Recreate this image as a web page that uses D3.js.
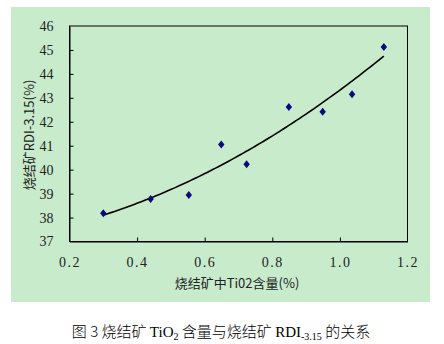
<!DOCTYPE html>
<html>
<head>
<meta charset="utf-8">
<script src="https://cdn.jsdelivr.net/npm/d3@7"></script>
<style>
  html, body { margin: 0; padding: 0; background: #ffffff; }
  svg { display: block; }
</style>
</head>
<body>
<svg id="chart" width="444" height="344"></svg>
<script>
// TiO2 content in sinter (%) and the matching RDI-3.15 (%)
const tio2 = [0.30, 0.44, 0.553, 0.649, 0.724, 0.849, 0.949, 1.036, 1.13];
const rdi  = [38.18, 38.78, 38.94, 41.05, 40.23, 42.62, 42.42, 43.15, 45.12];
const xTicks = [0.2, 0.4, 0.6, 0.8, 1.0, 1.2];
const yTicks = [37, 38, 39, 40, 41, 42, 43, 44, 45, 46];

const svg = d3.select("#chart");
const plot = { left: 69.5, top: 26, right: 407.5, bottom: 241.5 };

// green chart area
svg.append("rect")
  .attr("x", 11).attr("y", 7).attr("width", 419).attr("height", 295)
  .attr("fill", "#c8ebcb");

const x = d3.scaleLinear().domain([0.2, 1.2]).range([plot.left, plot.right]);
const y = d3.scaleLinear().domain([37, 46]).range([plot.bottom, plot.top]);

// plot frame
svg.append("rect")
  .attr("x", plot.left).attr("y", plot.top)
  .attr("width", plot.right - plot.left).attr("height", plot.bottom - plot.top)
  .attr("fill", "none").attr("stroke", "#000").attr("stroke-width", 1);

// axes with inward ticks
const yAxis = svg.append("g")
  .attr("transform", `translate(${plot.left},0)`)
  .call(d3.axisLeft(y).tickValues(yTicks).tickFormat(d3.format("d"))
        .tickSizeInner(-4).tickSizeOuter(0).tickPadding(16));
const xAxis = svg.append("g")
  .attr("transform", `translate(0,${plot.bottom})`)
  .call(d3.axisBottom(x).tickValues(xTicks).tickFormat(d3.format(".1f"))
        .tickSizeInner(-4).tickSizeOuter(0).tickPadding(16));

[xAxis, yAxis].forEach(g => {
  g.select(".domain").attr("stroke", "#000");
  g.selectAll(".tick line").attr("stroke", "#000");
  g.selectAll(".tick text")
    .attr("fill", "#222")
    .style("font-family", "'Liberation Serif', serif")
    .style("font-size", "14px");
});
xAxis.selectAll(".tick text").style("letter-spacing", "1.5px");
// drop end ticks that sit on the frame corners
yAxis.selectAll(".tick line").filter(d => d === 37 || d === 46).remove();
xAxis.selectAll(".tick line").filter(d => d === 0.2 || d === 1.2).remove();

// second-order polynomial trendline (least squares)
function polyFit2(xs, ys) {
  const n = xs.length;
  let s = [0, 0, 0, 0, 0], t = [0, 0, 0];
  for (let i = 0; i < n; i++) {
    let p = 1;
    for (let k = 0; k <= 4; k++) { s[k] += p; if (k <= 2) t[k] += p * ys[i]; p *= xs[i]; }
  }
  const A = [[s[0], s[1], s[2], t[0]], [s[1], s[2], s[3], t[1]], [s[2], s[3], s[4], t[2]]];
  for (let c = 0; c < 3; c++) {
    for (let r = c + 1; r < 3; r++) {
      const f = A[r][c] / A[c][c];
      for (let k = c; k < 4; k++) A[r][k] -= f * A[c][k];
    }
  }
  const b = [0, 0, 0];
  for (let r = 2; r >= 0; r--) {
    let v = A[r][3];
    for (let k = r + 1; k < 3; k++) v -= A[r][k] * b[k];
    b[r] = v / A[r][r];
  }
  return b;
}
const coef = polyFit2(tio2, rdi);
const xmin = d3.min(tio2), xmax = d3.max(tio2);
const trend = d3.range(0, 101).map(i => {
  const xv = xmin + (xmax - xmin) * i / 100;
  return [xv, coef[0] + coef[1] * xv + coef[2] * xv * xv];
});
svg.append("path")
  .datum(trend)
  .attr("fill", "none").attr("stroke", "#000").attr("stroke-width", 1.6)
  .attr("d", d3.line().x(d => x(d[0])).y(d => y(d[1])));

// data markers
svg.append("g").selectAll("path")
  .data(tio2.map((v, i) => [v, rdi[i]]))
  .join("path")
  .attr("transform", d => `translate(${x(d[0])},${y(d[1])})`)
  .attr("d", "M0,-4L3.2,0L0,4L-3.2,0Z")
  .attr("fill", "#0a0a80");

// axis titles
svg.append("text")
  .attr("x", 237).attr("y", 288)
  .attr("text-anchor", "middle")
  .attr("fill", "#222")
  .style("font-family", "'Noto Sans CJK SC', sans-serif")
  .style("font-size", "13px")
  .text("烧结矿中Ti02含量(%)");

svg.append("text")
  .attr("transform", "translate(34,135) rotate(-90)")
  .attr("text-anchor", "middle")
  .attr("fill", "#222")
  .style("font-family", "'Noto Sans CJK SC', sans-serif")
  .style("font-size", "13px")
  .text("烧结矿RDI-3.15(%)");

// figure caption
const cap = svg.append("text")
  .attr("x", 221).attr("y", 337)
  .attr("text-anchor", "middle")
  .attr("fill", "#000")
  .style("font-family", "'Noto Sans CJK SC', 'Liberation Serif', serif")
  .style("font-weight", "300")
  .style("font-size", "15px");
cap.append("tspan").text("图 3  烧结矿 ");
cap.append("tspan").style("font-family", "'Liberation Serif', serif").text("TiO");
cap.append("tspan").style("font-family", "'Liberation Serif', serif")
  .style("font-size", "10px").attr("dy", 3).text("2");
cap.append("tspan").attr("dy", -3).text(" 含量与烧结矿 ");
cap.append("tspan").style("font-family", "'Liberation Serif', serif").text("RDI");
cap.append("tspan").style("font-family", "'Liberation Serif', serif")
  .style("font-size", "10px").attr("dy", 3).text("-3.15");
cap.append("tspan").attr("dy", -3).text(" 的关系");
</script>
</body>
</html>
